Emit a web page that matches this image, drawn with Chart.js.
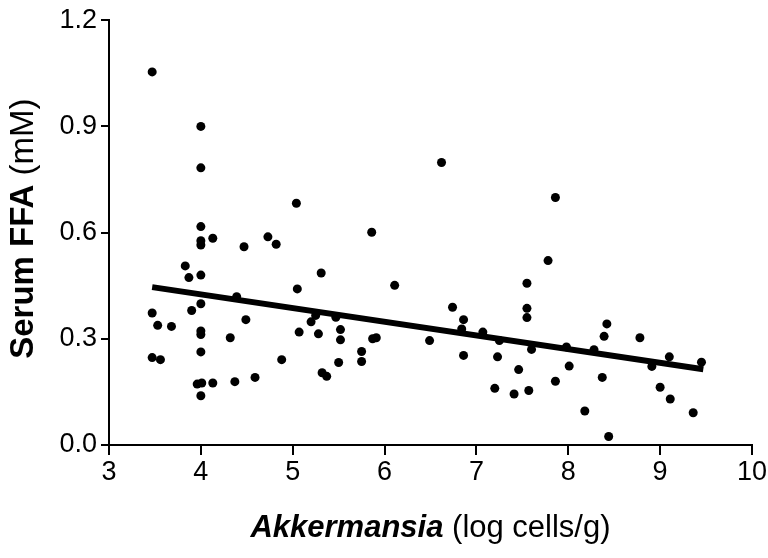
<!DOCTYPE html>
<html>
<head>
<meta charset="utf-8">
<script src="https://cdn.jsdelivr.net/npm/chart.js@4.4.1/dist/chart.umd.min.js"></script>
<style>
  html, body { margin: 0; padding: 0; background: #fff; }
  #wrap { width: 768px; height: 558px; }
</style>
</head>
<body>
<div id="wrap"><canvas id="chart" width="768" height="558"></canvas></div>
<script>
// Datos
const akkermansia = [
  3.47, 4.00, 4.00, 5.04, 4.00, 4.13, 4.00, 4.00, 4.47, 4.73,
  4.82, 3.83, 3.87, 4.00, 5.05, 3.47, 3.90, 4.00, 4.39, 4.49,
  3.53, 3.68, 4.00, 4.00, 4.32, 5.07, 3.47, 3.56, 4.00, 4.88,
  3.96, 4.01, 4.13, 4.37, 4.59, 4.00, 6.62, 5.86, 5.31, 6.11,
  5.20, 5.25, 5.47, 5.28, 5.52, 5.52, 5.32, 5.37, 5.50, 5.75,
  5.75, 5.87, 5.91, 6.49, 6.74, 6.86, 6.84, 6.86, 7.07, 7.23,
  7.20, 7.25, 7.86, 7.78, 7.55, 7.55, 7.55, 7.46, 7.41, 7.57,
  7.60, 7.86, 7.98, 8.01, 8.18, 8.28, 8.37, 8.39, 8.42, 8.44,
  8.78, 8.91, 9.00, 9.10, 9.11, 9.36, 9.45
];
const serumFFA = [
  1.054, 0.900, 0.783, 0.683, 0.617, 0.584, 0.577, 0.565, 0.560, 0.588,
  0.567, 0.506, 0.473, 0.480, 0.441, 0.373, 0.380, 0.399, 0.419, 0.354,
  0.338, 0.335, 0.322, 0.312, 0.303, 0.319, 0.247, 0.241, 0.263, 0.241,
  0.172, 0.175, 0.175, 0.179, 0.191, 0.139, 0.798, 0.601, 0.486, 0.451,
  0.348, 0.366, 0.361, 0.314, 0.326, 0.297, 0.204, 0.194, 0.233, 0.264,
  0.236, 0.300, 0.303, 0.295, 0.389, 0.354, 0.328, 0.253, 0.319, 0.249,
  0.160, 0.295, 0.699, 0.521, 0.457, 0.386, 0.360, 0.213, 0.144, 0.154,
  0.270, 0.180, 0.277, 0.223, 0.096, 0.269, 0.191, 0.307, 0.342, 0.024,
  0.303, 0.222, 0.163, 0.249, 0.130, 0.091, 0.234
];
// Línea de regresión (extremos leídos)
const trendX = [3.47, 9.47];
const trendY = [0.446, 0.214];

const xTicks = [3, 4, 5, 6, 7, 8, 9, 10];
const yTicks = [0.0, 0.3, 0.6, 0.9, 1.2];

const FONT = '"Liberation Sans", Arial, sans-serif';

// Títulos con partes en negrita / cursiva
const axisTitles = {
  id: 'axisTitles',
  afterDraw(chart) {
    const ctx = chart.ctx;
    const area = chart.chartArea;
    ctx.save();
    ctx.fillStyle = '#000';
    ctx.textBaseline = 'middle';
    ctx.textAlign = 'left';

    // eje x
    const boldX = 'italic bold 31px ' + FONT;
    const normX = '31px ' + FONT;
    ctx.font = boldX;
    const w1 = ctx.measureText('Akkermansia').width;
    ctx.font = normX;
    const w2 = ctx.measureText(' (log cells/g)').width;
    let sx = (area.left + area.right) / 2 - (w1 + w2) / 2;
    ctx.font = boldX;
    ctx.fillText('Akkermansia', sx, 528);
    ctx.font = normX;
    ctx.fillText(' (log cells/g)', sx + w1, 528);

    // eje y
    const boldY = 'bold 33px ' + FONT;
    const normY = '33px ' + FONT;
    ctx.font = boldY;
    const h1 = ctx.measureText('Serum FFA').width;
    ctx.font = normY;
    const h2 = ctx.measureText(' (mM)').width;
    ctx.translate(24, (area.top + area.bottom) / 2 - 4);
    ctx.rotate(-Math.PI / 2);
    let sy = -(h1 + h2) / 2;
    ctx.font = boldY;
    ctx.fillText('Serum FFA', sy, 0);
    ctx.font = normY;
    ctx.fillText(' (mM)', sy + h1, 0);
    ctx.restore();
  }
};

const points = akkermansia.map((v, i) => ({ x: v, y: serumFFA[i] }));
const trend = trendX.map((v, i) => ({ x: v, y: trendY[i] }));

const chart = new Chart(document.getElementById('chart').getContext('2d'), {
  type: 'scatter',
  data: {
    datasets: [
      {
        type: 'line',
        data: trend,
        borderColor: '#000',
        borderWidth: 6,
        pointRadius: 0,
        fill: false,
        order: 1
      },
      {
        data: points,
        backgroundColor: '#000',
        borderWidth: 0,
        pointRadius: 4.5,
        order: 2
      }
    ]
  },
  options: {
    responsive: false,
    animation: false,
    layout: { padding: { left: 0, top: 18, right: 16, bottom: 0 } },
    plugins: { legend: { display: false }, tooltip: { enabled: false } },
    scales: {
      x: {
        type: 'linear',
        min: 3,
        max: 10,
        afterBuildTicks: s => { s.ticks = xTicks.map(v => ({ value: v })); },
        afterFit: s => { s.height = 113; },
        ticks: { color: '#000', font: { family: FONT, size: 27 }, padding: 1 },
        grid: { drawOnChartArea: false, drawTicks: true, tickLength: 10, color: '#000', lineWidth: 2 },
        border: { display: true, color: '#000', width: 2 }
      },
      y: {
        min: 0,
        max: 1.2,
        afterBuildTicks: s => { s.ticks = yTicks.map(v => ({ value: v })); },
        afterFit: s => { s.width = 109; },
        ticks: { color: '#000', font: { family: FONT, size: 27 }, padding: 4,
                 callback: v => Number(v).toFixed(1) },
        grid: { drawOnChartArea: false, drawTicks: true, tickLength: 8, color: '#000', lineWidth: 2 },
        border: { display: true, color: '#000', width: 2 }
      }
    }
  },
  plugins: [axisTitles]
});
</script>
</body>
</html>
